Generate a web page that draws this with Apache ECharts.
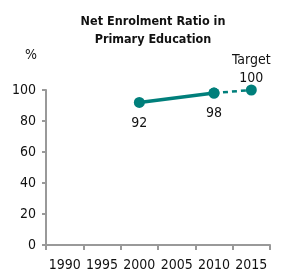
<!DOCTYPE html>
<html>
<head>
<meta charset="utf-8">
<script src="https://cdn.jsdelivr.net/npm/echarts@6/dist/echarts.min.js"></script>
<style>
  html, body { margin: 0; padding: 0; background: #fff; }
  #chart { width: 287px; height: 272px; }
</style>
</head>
<body>
<div id="chart"></div>
<script>
const years = ['1990', '1995', '2000', '2005', '2010', '2015'];
const actual = [null, null, 92, null, 98, null];
const target = [null, null, null, null, 98, 100];
const yTicks = [0, 20, 40, 60, 80, 100];

const teal = '#007f7b';

const chart = echarts.init(document.getElementById('chart'));
chart.setOption({
  animation: false,
  title: {
    text: 'Net Enrolment Ratio in\nPrimary Education',
    left: 148,
    textAlign: 'center',
    top: 8,
    textStyle: {
      fontFamily: 'DejaVu Sans Condensed',
      fontWeight: 'bold',
      fontSize: 12.5,
      lineHeight: 18,
      color: '#111'
    }
  },
  graphic: [{
    type: 'text',
    left: 25,
    top: 48,
    style: { text: '%', font: '14px "DejaVu Sans Condensed"', fill: '#111' }
  }],
  grid: { left: 46, right: 17, top: 90, bottom: 25 },
  xAxis: {
    type: 'category',
    data: years,
    boundaryGap: true,
    axisLine: { lineStyle: { color: '#999', width: 2 } },
    axisTick: { show: true, interval: 0, inside: false, length: 5, lineStyle: { color: '#999', width: 2 } },
    axisLabel: { interval: 0, color: '#111', fontSize: 14, margin: 13, fontFamily: 'DejaVu Sans Condensed' }
  },
  yAxis: {
    type: 'value',
    min: yTicks[0],
    max: yTicks[yTicks.length - 1],
    interval: 20,
    splitLine: { show: false },
    axisLine: { show: true, lineStyle: { color: '#999', width: 2 } },
    axisTick: { show: true, length: 4, lineStyle: { color: '#999', width: 2 } },
    axisLabel: { color: '#111', fontSize: 14, margin: 10, fontFamily: 'DejaVu Sans Condensed' }
  },
  series: [
    {
      type: 'line',
      data: target,
      connectNulls: true,
      symbol: 'circle',
      symbolSize: 11,
      itemStyle: { color: teal },
      lineStyle: { color: teal, width: 2.5, type: [5, 4] },
      label: {
        show: true,
        position: 'top',
        distance: -3,
        color: '#111',
        fontSize: 14,
        lineHeight: 18,
        fontFamily: 'DejaVu Sans Condensed',
        formatter: p => (p.dataIndex === 5 ? 'Target\n' + p.value : '')
      },
      z: 2
    },
    {
      type: 'line',
      data: actual,
      connectNulls: true,
      symbol: 'circle',
      symbolSize: 11,
      itemStyle: { color: teal },
      lineStyle: { color: teal, width: 3.5 },
      label: {
        show: true,
        position: 'bottom',
        distance: 8,
        color: '#111',
        fontSize: 14,
        fontFamily: 'DejaVu Sans Condensed'
      },
      z: 3
    }
  ]
});
</script>
</body>
</html>
